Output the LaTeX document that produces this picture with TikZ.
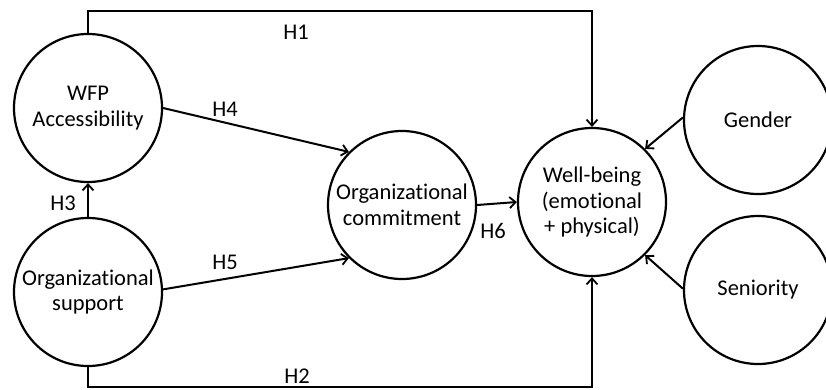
\documentclass[tikz,border=0pt]{standalone}
\usepackage{fontspec}
\setmainfont{Carlito}[Ligatures={NoCommon}]
\usetikzlibrary{arrows.meta}
\begin{document}
\begin{tikzpicture}[x=1pt,y=-1pt,
  latent/.style={draw,circle,line width=2.2pt,minimum size=148pt,inner sep=0pt,align=center,font=\fontsize{22.5}{25.5}\selectfont},
  arr/.style={line width=2pt,-{Straight Barb[length=6pt,width=11pt,line width=1.8pt]}},
  lab/.style={font=\fontsize{22.5}{25.5}\selectfont,inner sep=0pt}]
\useasboundingbox (0,0) rectangle (826,389);
\node[latent] (wfp) at (88,108) {WFP\\Accessibility};
\node[latent] (sup) at (88,292) {Organizational\\support};
\node[latent] (com) at (402,205) {Organizational\\commitment};
\node[latent] (wb) at (592,202) {Well-being\\(emotional\\+ physical)};
\node[latent] (gen) at (758,120) {Gender};
\node[latent] (sen) at (758,290) {Seniority};
\coordinate (top) at (0,11);
\coordinate (bot) at (0,387);
\draw[arr] (wfp.north) -- (wfp.north |- top) -| (wb.north);
\draw[arr] (sup.south) -- (sup.south |- bot) -| (wb.south);
\draw[arr] (sup.north) -- (wfp.south);
\draw[arr] (wfp.east) -- (com.135);
\draw[arr] (sup.2) -- (com.225);
\draw[arr] (com.east) -- (wb.west);
\draw[arr] (gen.178) -- (wb.45);
\draw[arr] (sen.179) -- (wb.-45);
\node[lab] (h1) at (296,32) {H1};
\node[lab] (h2) at (297,376) {H2};
\node[lab] (h3) at (63,203) {H3};
\node[lab] (h4) at (225,109) {H4};
\node[lab] (h5) at (225,262) {H5};
\node[lab] (h6) at (493,231) {H6};
\end{tikzpicture}
\end{document}
